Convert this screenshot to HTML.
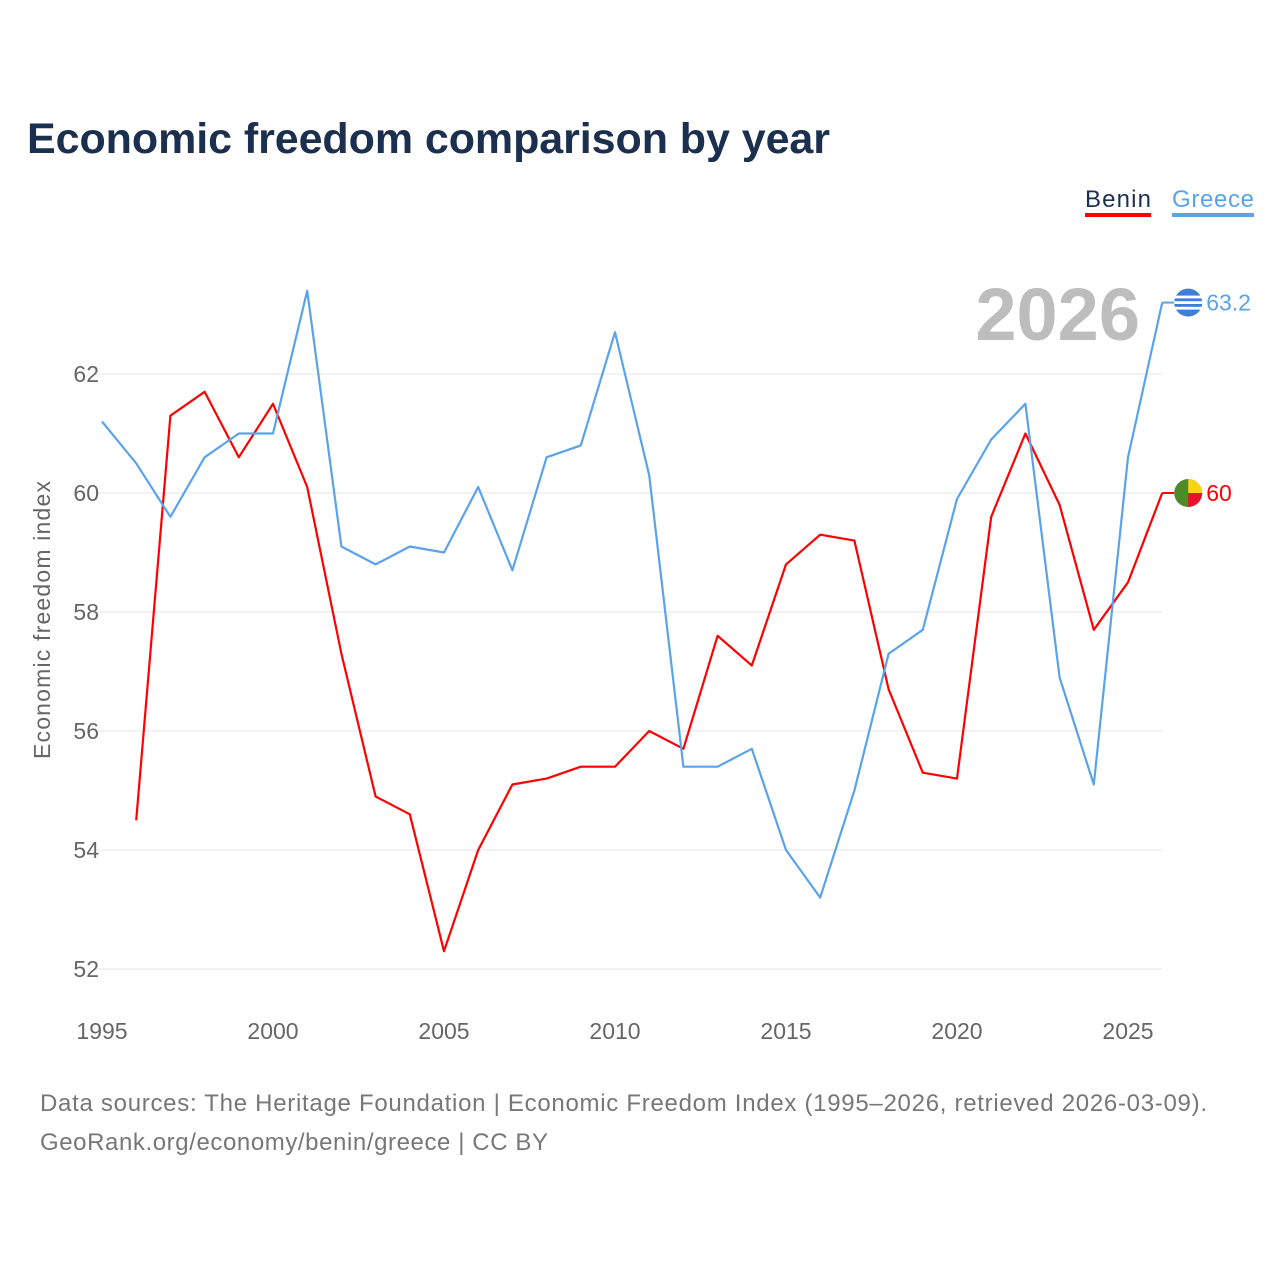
<!DOCTYPE html>
<html><head><meta charset="utf-8"><style>
body{margin:0;background:#fff;font-family:"Liberation Sans",sans-serif;}
svg text{font-family:"Liberation Sans",sans-serif;}
</style></head><body>
<svg width="1280" height="1280">
<text x="27" y="153" font-size="43" font-weight="bold" fill="#1b2f4f" textLength="803">Economic freedom comparison by year</text>
<g>
<text x="1085" y="207" font-size="24" fill="#1b2f4f" textLength="66">Benin</text>
<rect x="1085" y="213" width="66" height="4" fill="#ff0000"/>
<text x="1172" y="207" font-size="24" fill="#5aa3ea" textLength="82">Greece</text>
<rect x="1172" y="213" width="82" height="4" fill="#5aa3ea"/>
</g>
<text x="1140" y="340" font-size="74" font-weight="bold" fill="#bdbdbd" text-anchor="end">2026</text>
<g id="grid"></g><g id="xt"></g><g id="lines"></g>
<text transform="translate(50,620) rotate(-90)" font-size="23" fill="#666" text-anchor="middle" textLength="278">Economic freedom index</text>
<text x="40" y="1111" font-size="24" fill="#777" textLength="1167">Data sources: The Heritage Foundation | Economic Freedom Index (1995–2026, retrieved 2026-03-09).</text>
<text x="40" y="1150" font-size="24" fill="#777" textLength="508">GeoRank.org/economy/benin/greece | CC BY</text>
</svg>
<script>
const years=[1995,1996,1997,1998,1999,2000,2001,2002,2003,2004,2005,2006,2007,2008,2009,2010,2011,2012,2013,2014,2015,2016,2017,2018,2019,2020,2021,2022,2023,2024,2025,2026];
const greece=[61.2,60.5,59.6,60.6,61.0,61.0,63.4,59.1,58.8,59.1,59.0,60.1,58.7,60.6,60.8,62.7,60.3,55.4,55.4,55.7,54.0,53.2,55.0,57.3,57.7,59.9,60.9,61.5,56.9,55.1,60.6,63.2];
const benin=[null,54.5,61.3,61.7,60.6,61.5,60.1,57.3,54.9,54.6,52.3,54.0,55.1,55.2,55.4,55.4,56.0,55.7,57.6,57.1,58.8,59.3,59.2,56.7,55.3,55.2,59.6,61.0,59.8,57.7,58.5,60.0];
const yTicks=[52,54,56,58,60,62];
const xTicks=[1995,2000,2005,2010,2015,2020,2025];
const NS="http://www.w3.org/2000/svg";
const X=v=>102+(v-1995)*34.2, Y=v=>374+(62-v)*59.5;
function mk(t,a,p){const e=document.createElementNS(NS,t);for(const k in a)e.setAttribute(k,a[k]);p.appendChild(e);return e;}
const g=document.getElementById('grid'),xt=document.getElementById('xt'),L=document.getElementById('lines');
yTicks.forEach(v=>{
 const l=mk('line',{x1:95,x2:1162,y1:Y(v),y2:Y(v),stroke:'#e6e6e6','stroke-width':1},g);
 
 
 const t=mk('text',{x:99,y:Y(v)+8,'font-size':23,fill:'#666','text-anchor':'end'},g);t.textContent=v;
 
 
});
xTicks.forEach(v=>{
 const t=mk('text',{x:X(v),y:1039,'font-size':23,fill:'#666','text-anchor':'middle'},xt);t.textContent=v;
 
 
});
function path(arr,c,name){
 let d='';arr.forEach((v,i)=>{if(v==null)return;d+=(d?'L':'M')+X(years[i]).toFixed(1)+','+Y(v).toFixed(1);});
 const p=mk('path',{d:d,fill:'none',stroke:c,'stroke-width':2.2,'stroke-linejoin':'round'},L);
 
 
}
path(benin,'#ff0000','benin-line');path(greece,'#5aa3ea','greece-line');
function end(arr,c,name,cols){
 const v=arr[arr.length-1],x=X(2026),y=Y(v);
 mk('line',{x1:x,x2:x+12,y1:y,y2:y,stroke:c,'stroke-width':2},L);
 const gg=mk('g',{},L);
 
 
 mk('circle',{cx:x+26,cy:y,r:14,fill:cols[0]},gg);
 if(cols.length>1){mk('path',{d:`M${x+26},${y-14}A14,14 0 0 1 ${x+40},${y}L${x+26},${y}Z`,fill:cols[1]},gg);
 mk('path',{d:`M${x+40},${y}A14,14 0 0 1 ${x+26},${y+14}L${x+26},${y}Z`,fill:cols[2]},gg);}
 else{for(let k=-2;k<=2;k+=2)mk('rect',{x:x+12,y:y+k*2.8-1.4,width:28,height:2.8,fill:'#fff'},gg);}
 const t=mk('text',{x:x+44,y:y+8,'font-size':23,fill:c},L);t.textContent=v;
 
 
}
end(benin,'#ff0000','benin',['#4d8a2a','#fcd116','#e8112d']);
end(greece,'#5aa3ea','greece',['#3d7fd6']);
</script>
</body></html>
